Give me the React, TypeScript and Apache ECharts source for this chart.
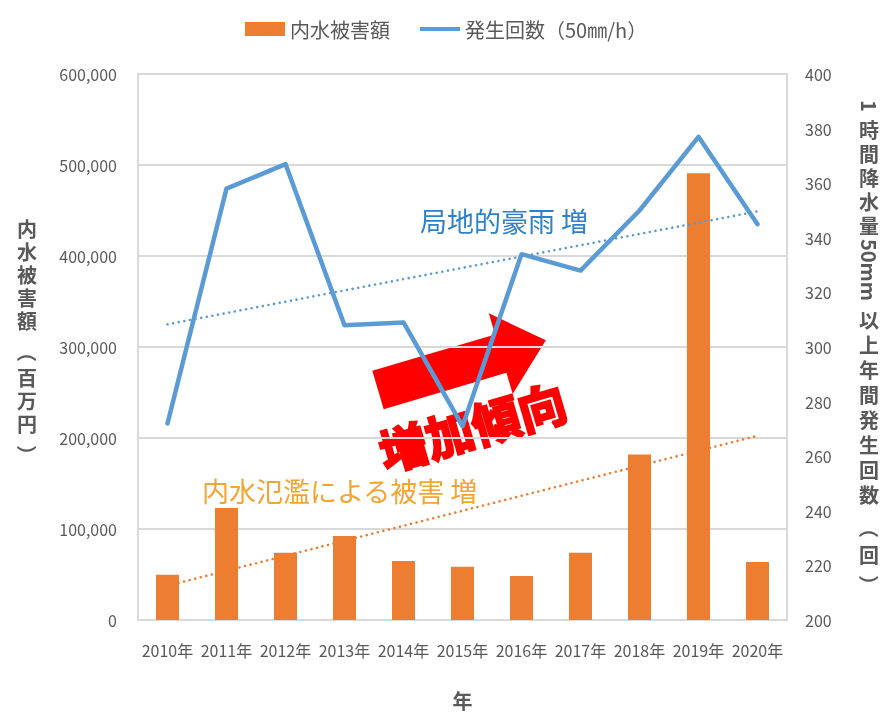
import React, { useEffect, useRef } from "react";
import * as echarts from "echarts";

const years = ["2010年", "2011年", "2012年", "2013年", "2014年", "2015年", "2016年", "2017年", "2018年", "2019年", "2020年"];
// 内水被害額（百万円）
const damage = [49700, 123000, 73800, 92300, 64700, 58500, 48300, 73800, 182000, 491000, 63600];
// 1時間降水量50mm以上年間発生回数（回）
const counts = [272, 358, 367, 308, 309, 271, 334, 328, 350, 377, 345];

const leftTicks = { min: 0, max: 600000, interval: 100000 };
const rightTicks = { min: 200, max: 400, interval: 20 };

const seriesNames = ["内水被害額", "発生回数（50㎜/h）"];
// vertical axis titles, split into upright runs and sideways (rotated) runs
const leftName = ["内水被害額", "（", "百万円", "）"];
const rightName = ["1", "時間降水量", "50mm", "以上年間発生回数", "（", "回", "）"];

const FONT = '"Noto Sans CJK JP", "Noto Sans", sans-serif';
const VFONT = '"Liberation Sans", "Noto Sans CJK JP", sans-serif';
const GRAY = "#595959";

function linearTrend(vals: number[]): number[] {
  const n = vals.length;
  const mx = (n - 1) / 2;
  const my = vals.reduce((a, b) => a + b, 0) / n;
  let sxy = 0, sxx = 0;
  vals.forEach((v, i) => { sxy += (i - mx) * (v - my); sxx += (i - mx) * (i - mx); });
  const b = sxy / sxx;
  return vals.map((_, i) => +(my + b * (i - mx)).toFixed(2));
}

function fmtThousands(v: number): string {
  return String(v).replace(/\B(?=(\d{3})+(?!\d))/g, ",");
}

function isSideways(t: string) {
  return /^[0-9a-zA-Z]+$/.test(t) || t === "（" || t === "）";
}

function vText(segs: string[], ys: number[], x: number, size: number, lh: number[]) {
  return segs.map((t, i) => {
    const side = isSideways(t);
    return {
      type: "text",
      x,
      y: ys[i],
      rotation: side ? -Math.PI / 2 : 0,
      silent: true,
      style: {
        text: side ? t : t.split("").join("\n"),
        fill: GRAY,
        fontSize: size,
        lineHeight: side ? size : lh[i],
        fontWeight: "bold",
        fontFamily: side ? FONT : VFONT,
        align: "center",
        verticalAlign: "middle",
        textAlign: "center",
        textVerticalAlign: "middle",
      },
    };
  });
}

export default function App() {
  const ref = useRef<HTMLDivElement>(null);
  useEffect(() => {
    if (!ref.current) return;
    const chart = echarts.init(ref.current, undefined, { renderer: "svg" });
    const leftYs = [276, 352, 402, 455];
    const leftLh = [23, 20, 23, 20];
    const rightYs = [106, 179, 270, 408.5, 528, 556, 585];
    const rightLh = [20, 24, 20, 25, 20, 20, 20];
    chart.setOption({
      animation: false,
      textStyle: { fontFamily: FONT },
      legend: {
        left: 240,
        top: 14,
        itemWidth: 40,
        itemHeight: 14,
        itemGap: 30,
        textStyle: { fontSize: 20, color: GRAY, fontFamily: FONT },
        data: [
          { name: seriesNames[0], icon: "rect" },
          { name: seriesNames[1], icon: "path://M0,0H40V4H0Z" },
        ],
      },
      grid: {
        left: 138,
        right: 97,
        top: 74,
        bottom: 92,
        show: true,
        borderColor: "#d9d9d9",
        borderWidth: 2,
      },
      xAxis: {
        type: "category",
        data: years,
        axisTick: { show: false },
        axisLine: { lineStyle: { color: "#d9d9d9", width: 2 } },
        axisLabel: { interval: 0, margin: 22, fontSize: 16, color: GRAY, fontFamily: FONT },
        name: "年",
        nameLocation: "middle",
        nameGap: 70,
        nameTextStyle: { fontSize: 20, fontWeight: "bold", color: GRAY, fontFamily: FONT },
      },
      yAxis: [
        {
          type: "value",
          min: leftTicks.min,
          max: leftTicks.max,
          interval: leftTicks.interval,
          axisLine: { show: false },
          axisTick: { show: false },
          axisLabel: { margin: 21, fontSize: 16, color: GRAY, fontFamily: FONT, formatter: (v: number) => fmtThousands(v) },
          splitLine: { lineStyle: { color: "#d9d9d9", width: 2 } },
        },
        {
          type: "value",
          min: rightTicks.min,
          max: rightTicks.max,
          interval: rightTicks.interval,
          axisLine: { show: false },
          axisTick: { show: false },
          axisLabel: { margin: 18, fontSize: 16, color: GRAY, fontFamily: FONT },
          splitLine: { show: false },
        },
      ],
      series: [
        {
          name: seriesNames[0],
          type: "bar",
          yAxisIndex: 0,
          data: damage,
          barWidth: "39%",
          itemStyle: { color: "#ED7D31" },
          z: 2,
        },
        {
          name: "trendDamage",
          type: "line",
          yAxisIndex: 0,
          data: linearTrend(damage),
          symbol: "none",
          lineStyle: { color: "#ED7D31", width: 2.6, type: [0.01, 5.7], cap: "round" },
          z: 3,
        },
        {
          name: seriesNames[1],
          type: "line",
          yAxisIndex: 1,
          data: counts,
          symbol: "none",
          lineStyle: { color: "#5B9BD5", width: 4.5, cap: "round", join: "round" },
          itemStyle: { color: "#5B9BD5" },
          z: 4,
        },
        {
          name: "trendCount",
          type: "line",
          yAxisIndex: 1,
          data: linearTrend(counts),
          symbol: "none",
          lineStyle: { color: "#5B9BD5", width: 2.6, type: [0.01, 5.7], cap: "round" },
          z: 3,
        },
      ],
      graphic: [
        ...vText(leftName, leftYs, 27, 20, leftLh),
        ...vText(rightName, rightYs, 869, 20, rightLh),
        {
          type: "text",
          left: 420,
          top: 207,
          silent: true,
          style: { text: "局地的豪雨 増", fill: "#2E80C8", fontSize: 27, fontFamily: FONT },
          z: 10,
        },
        {
          type: "text",
          left: 202,
          top: 477,
          silent: true,
          style: { text: "内水氾濫による被害 増", fill: "#F5A431", fontSize: 27, fontFamily: FONT },
          z: 10,
        },
        {
          type: "group",
          x: 378,
          y: 390,
          rotation: 0.288,
          silent: true,
          z: 20,
          children: [
            {
              type: "polygon",
              shape: { points: [[0, -20], [128, -20], [128, -42], [175, 0], [128, 42], [128, 20], [0, 20]] },
              style: { fill: "#FF0000" },
            },
          ],
        },
        {
          type: "group",
          x: 472,
          y: 425,
          rotation: 0.285,
          silent: true,
          z: 20,
          children: [
            {
              type: "text",
              x: 0,
              y: 0,
              style: {
                text: "増加傾向",
                fill: "#FF0000",
                stroke: "#FF0000",
                lineWidth: 2.5,
                fontSize: 48,
                fontWeight: "bold",
                fontFamily: FONT,
                align: "center",
                verticalAlign: "middle",
                textAlign: "center",
                textVerticalAlign: "middle",
              },
            },
          ],
        },
      ],
    });
    return () => chart.dispose();
  }, []);
  return <div ref={ref} style={{ position: "fixed", left: 0, top: 0, width: 884, height: 715 }} />;
}
